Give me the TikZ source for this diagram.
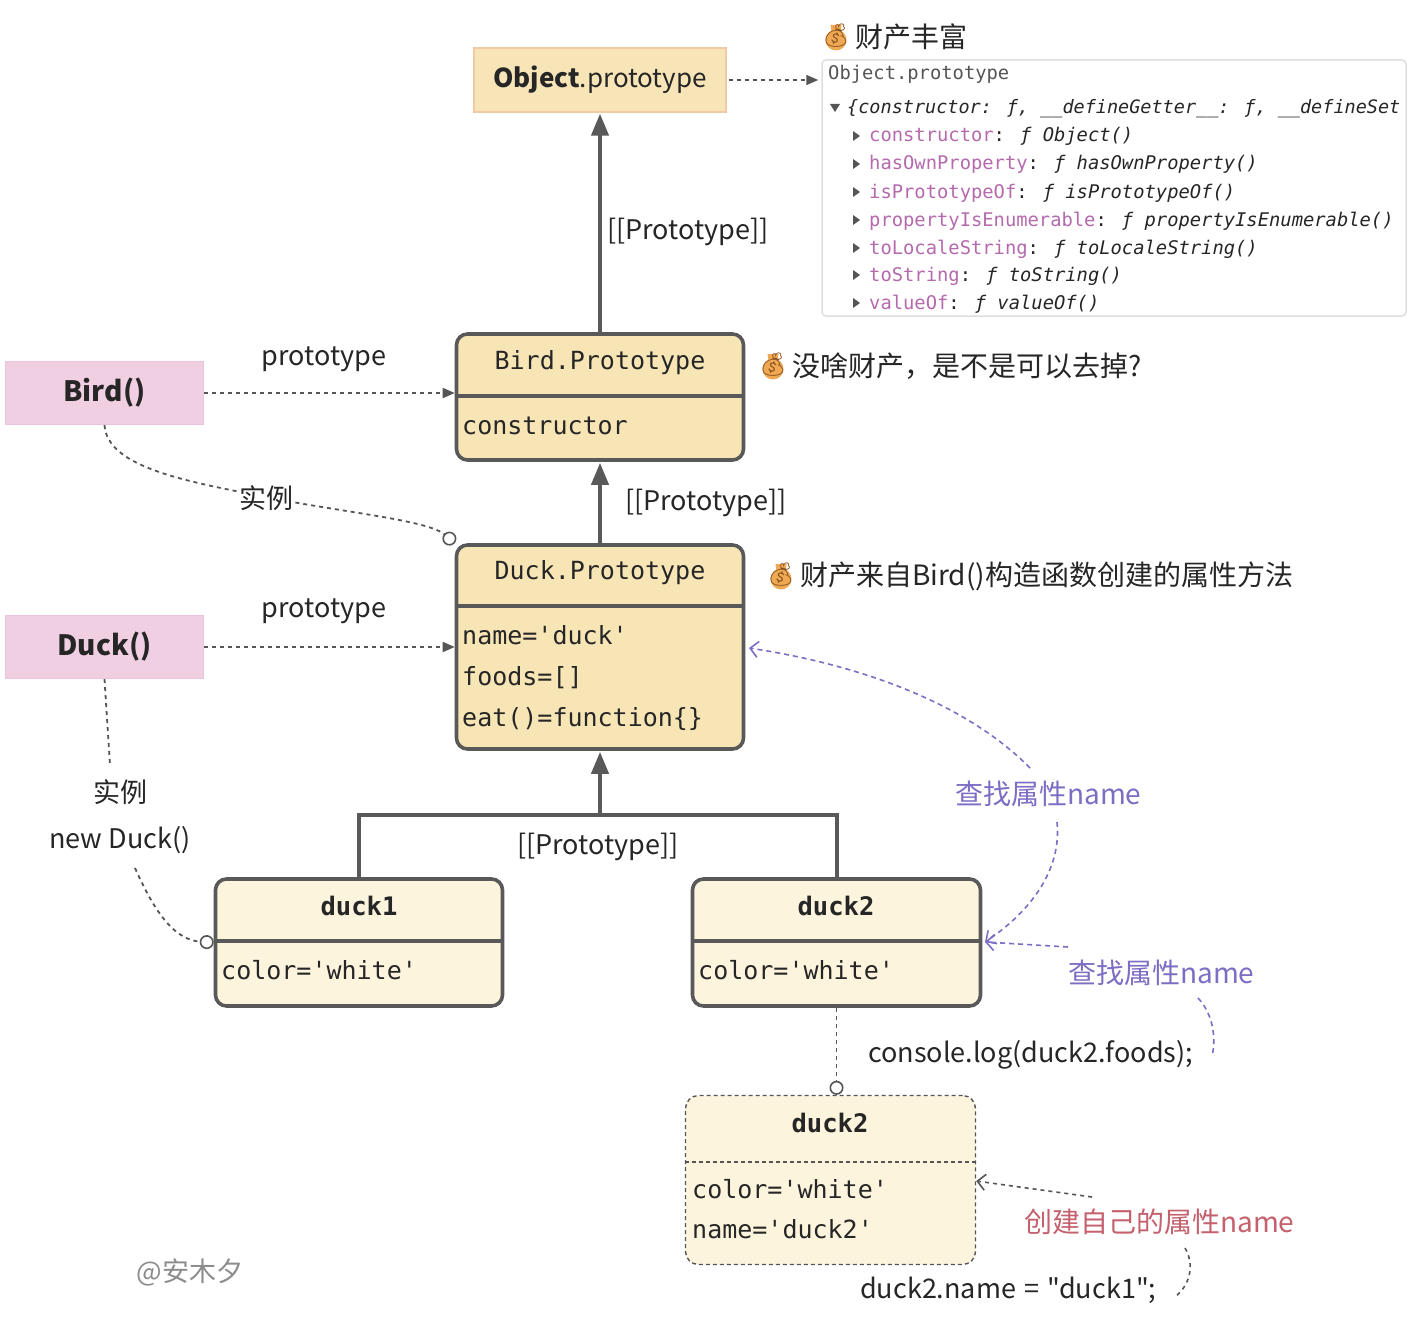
\documentclass[tikz,border=0pt]{standalone}
\usepackage{fontspec}
\setmainfont{Noto Sans CJK SC}
\newfontfamily\plainf{Noto Sans CJK SC}
\newfontfamily\monof{DejaVu Sans Mono}
\newfontfamily\emojif{Noto Emoji}
\usetikzlibrary{arrows.meta,calc}
\definecolor{protofill}{HTML}{F7E5B6}
\definecolor{lightfill}{HTML}{FCF4DD}
\definecolor{boxdraw}{HTML}{595959}
\definecolor{objfill}{HTML}{F7E5B8}
\definecolor{objdraw}{HTML}{F0C9A6}
\definecolor{pinkfill}{HTML}{F1CFE3}
\definecolor{pinkdraw}{HTML}{ECC3DA}
\definecolor{txt}{HTML}{262626}
\definecolor{dotgray}{HTML}{555555}
\definecolor{lookc}{HTML}{7E6DC4}
\definecolor{redc}{HTML}{C5606D}
\definecolor{consdraw}{HTML}{DEDEDE}
\definecolor{propc}{HTML}{B56AAD}
\definecolor{emoc}{HTML}{EFA853}
\definecolor{emodark}{HTML}{8A5320}
\definecolor{wmc}{HTML}{8C8C8C}
\tikzset{
  moneybag/.pic={
    \fill[emoc] (0,4) circle (10.5pt);
    \fill[emoc] (-4.5,-4) -- (4.5,-4) -- (5.5,-11) -- (-5.5,-11) -- cycle;
    \node[font=\emojif\fontsize{23}{23}\selectfont, text=emodark, inner sep=0pt] (-g) at (0,0) {💰};
  }
}
\begin{document}
\begin{tikzpicture}[x=1pt,y=-1pt,
  lbl/.style={font=\fontsize{27}{32}\selectfont, text=txt, inner sep=1pt},
  lblw/.style={lbl, anchor=west, inner sep=0pt},
  monotxt/.style={font=\monof\fontsize{25}{30}\selectfont, text=txt, inner sep=0pt, anchor=west, text height=1.35em, text depth=0em},
  monohead/.style={font=\monof\fontsize{25}{30}\selectfont, text=txt, inner sep=0pt, text height=1.35em, text depth=0em},
  monobold/.style={monohead, font=\monof\bfseries\fontsize{25.5}{30}\selectfont},
  cons/.style={font=\monof\fontsize{18.8}{22}\selectfont, text=txt, inner sep=0pt, anchor=west, text height=1.2em, text depth=0em},
  protobox/.style={draw=boxdraw, line width=3.6pt, rounded corners=11pt, fill=protofill, minimum width=287pt, inner sep=0pt},
  lightbox/.style={protobox, fill=lightfill},
  dashbox/.style={draw=dotgray, line width=1.4pt, dash pattern=on 4pt off 3pt, rounded corners=13pt, fill=lightfill, minimum width=290pt, inner sep=0pt},
  pinkbox/.style={draw=pinkdraw, line width=1.2pt, fill=pinkfill, minimum width=198pt, minimum height=63pt, font=\fontsize{28}{32}\selectfont, text=txt},
  divider/.style={draw=boxdraw, line width=3.6pt},
  thickarr/.style={draw=boxdraw, line width=4pt, -{Triangle[width=17pt,length=22pt]}},
  dotline/.style={draw=dotgray, line width=1.8pt, dash pattern=on 4pt off 4pt},
  dotarr/.style={dotline, -{Triangle[width=10pt,length=12pt]}},
  circtip/.style={-{Circle[open,length=14pt,width=14pt,fill=white,line width=1.6pt]}},
  lookline/.style={draw=lookc, line width=1.6pt, dash pattern=on 5pt off 4pt},
  lookarr/.style={lookline, -{Straight Barb[length=8pt,width=16pt,line width=1.6pt]}},
  grayarr/.style={dotline, line width=1.6pt, -{Straight Barb[length=8pt,width=16pt,line width=1.6pt]}},
  tri/.style={fill=dotgray, draw=none}
]
\useasboundingbox (0,0) rectangle (1414,1327);
\fill[white] (0,0) rectangle (1414,1327);

% ---------- Object.prototype ----------
\node[draw=objdraw, line width=1.2pt, fill=objfill, minimum width=252pt, minimum height=64pt,
      font=\fontsize{26}{30}\selectfont, text=txt] (objp) at (600,80) {\textbf{Object}.prototype};

% ---------- console box ----------
\node[draw=consdraw, line width=1.5pt, rounded corners=4pt, minimum width=584pt, minimum height=256pt, inner sep=0pt] (cons) at (1114,188) {};
\pic (emo1) at (836,36) {moneybag};
\node[lblw, font=\fontsize{28}{32}\selectfont] (rich) at (855,37) {财产丰富};
\node[cons, text=dotgray] (c0) at (828,74) {Object.prototype};
\node[cons, font=\monof\itshape\fontsize{18.5}{22}\selectfont] (c1) at (847,108) {\{constructor: ƒ, \_\_defineGetter\_\_: ƒ, \_\_defineSet};
\fill[tri] (830,104) -- (840,104) -- (835,112) -- cycle;
\foreach \y/\p/\v [count=\i] in {136/constructor/Object(), 164/hasOwnProperty/hasOwnProperty(), 192/isPrototypeOf/isPrototypeOf(), 220/propertyIsEnumerable/propertyIsEnumerable(), 248/toLocaleString/toLocaleString(), 275/toString/toString(), 303/valueOf/valueOf()}{
  \fill[tri] (853,\y-5) -- (860,\y) -- (853,\y+5) -- cycle;
  \node[cons] (cl\i) at (869,\y) {\textcolor{propc}{\p}: {\itshape ƒ \v}};
}

% ---------- Bird.Prototype ----------
\node[protobox, minimum height=126pt] (birdp) at (600,397) {};
\draw[divider] ([yshift=-64pt]birdp.north west) -- ([yshift=-64pt]birdp.north east);
\node[monohead] (birdpt) at (600,363) {Bird.Prototype};
\node[monotxt] (birdpc) at (462,428) {constructor};
\pic (emo2) at (773,365) {moneybag};
\node[lblw, font=\fontsize{28}{32}\selectfont] (note2) at (792,366) {没啥财产，是不是可以去掉?};

% ---------- Duck.Prototype ----------
\node[protobox, minimum height=204pt] (duckp) at (600,647) {};
\draw[divider] ([yshift=-63pt]duckp.north west) -- ([yshift=-63pt]duckp.north east);
\node[monohead] (duckpt) at (600,573) {Duck.Prototype};
\node[monotxt] (dp1) at (462,638) {name='duck'};
\node[monotxt] (dp2) at (462,679) {foods=[]};
\node[monotxt] (dp3) at (462,720) {eat()=function\{\}};
\pic (emo3) at (781,575) {moneybag};
\node[lblw, font=\fontsize{28}{32}\selectfont] (note3) at (800,576) {财产来自Bird()构造函数创建的属性方法};

% ---------- constructors ----------
\node[pinkbox] (bird) at (104.5,393) {\textbf{Bird()}};
\node[pinkbox] (duck) at (104.5,647) {\textbf{Duck()}};
\node[lbl] (pl1) at (324,359) {prototype};
\node[lbl] (pl2) at (324,611) {prototype};
\draw[dotarr] (bird.east) -- (bird.east -| birdp.west);
\draw[dotarr] (duck.east) -- (duck.east -| duckp.west);

% ---------- instances ----------
\node[lightbox, minimum height=127pt] (duck1) at (359,942.5) {};
\draw[divider] ([yshift=-64pt]duck1.north west) -- ([yshift=-64pt]duck1.north east);
\node[monobold] (d1t) at (359,909) {duck1};
\node[monotxt] (d1c) at (221,973) {color='white'};

\node[lightbox, minimum height=127pt, minimum width=288pt] (duck2) at (836.5,942.5) {};
\draw[divider] ([yshift=-64pt]duck2.north west) -- ([yshift=-64pt]duck2.north east);
\node[monobold] (d2t) at (836,909) {duck2};
\node[monotxt] (d2c) at (698,973) {color='white'};

\node[dashbox, minimum height=169pt] (duck2b) at (830.5,1180) {};
\draw[dotgray, line width=1.4pt, dash pattern=on 4pt off 3pt] ([yshift=-67pt]duck2b.north west) -- ([yshift=-67pt]duck2b.north east);
\node[monobold] (d3t) at (830,1126) {duck2};
\node[monotxt] (d3c) at (692,1192) {color='white'};
\node[monotxt] (d3n) at (692,1232) {name='duck2'};

% ---------- [[Prototype]] links ----------
\coordinate (junc) at (600,815);
\draw[draw=boxdraw, line width=4pt] (duck1.north) |- (junc) -| (duck2.north);
\draw[thickarr, shorten >=1pt] (junc) -- (duckp.south);
\draw[thickarr, shorten >=1pt] (duckp.north) -- (birdp.south);
\draw[thickarr, shorten >=1pt] (birdp.north) -- (objp.south);
\node[lbl, anchor=west] (pr1) at (606,232) {[[Prototype]]};
\node[lbl, anchor=west] (pr2) at (624,503) {[[Prototype]]};
\node[lbl] (pr3) at (598,847) {[[Prototype]]};
\draw[dotarr, shorten <=2pt, shorten >=3pt] (objp.east) -- (objp.east -| cons.west);

% ---------- instance-of links ----------
\draw[dotline, circtip] (bird.south) .. controls (107,468) and (190,482) .. (266,497)
  .. controls (340,512) and (428,520) .. (duckp.north west);
\node[lbl, fill=white, inner sep=0pt] (sl1) at (266,498) {实例};

\node[lbl] (sl2) at (120,792) {实例};
\node[lbl] (nd) at (120,840) {new Duck()};
\coordinate (dk1) at (110,765);
\coordinate (dk2) at (135,868);
\draw[dotline] (duck.south) -- (dk1);
\draw[dotline, circtip] (dk2) .. controls (152,906) and (172,940) .. (duck1.west);

\draw[dotline, circtip] (duck2.south) -- (duck2.south |- duck2b.north);

% ---------- lookup annotations ----------
\node[lblw, text=lookc, font=\fontsize{28}{32}\selectfont] (look1) at (955,794) {查找属性name};
\node[lblw, text=lookc, font=\fontsize{28}{32}\selectfont] (look2) at (1068,973) {查找属性name};
\coordinate (d2e) at (985,942);
\coordinate (dpe) at (749,648);
\draw[lookarr] (1030,768) .. controls (975,712) and (880,668) .. (dpe);
\draw[lookarr] (1057,822) .. controls (1062,870) and (1030,912) .. (d2e);
\draw[lookarr] (1068,947) -- (d2e);
\draw[lookline] (1198,998) .. controls (1214,1015) and (1216,1040) .. (1212,1056);
\node[lblw] (clog) at (868,1055) {console.log(duck2.foods);};

\node[lblw, text=redc, font=\fontsize{28}{32}\selectfont] (own) at (1024,1222) {创建自己的属性name};
\draw[grayarr] (1092,1197) -- (duck2b.east |- 0,1181);
\draw[dotline, line width=1.6pt] (1185,1248) .. controls (1195,1265) and (1190,1285) .. (1175,1297);
\node[lblw, font=\plainf\fontsize{27}{32}\selectfont] (assign) at (860,1290) {duck2.name\hspace{0.3em}=\hspace{0.3em}"duck1";};

\node[lbl, text=wmc] (wm) at (190,1272) {@安木夕};
\end{tikzpicture}
\end{document}
